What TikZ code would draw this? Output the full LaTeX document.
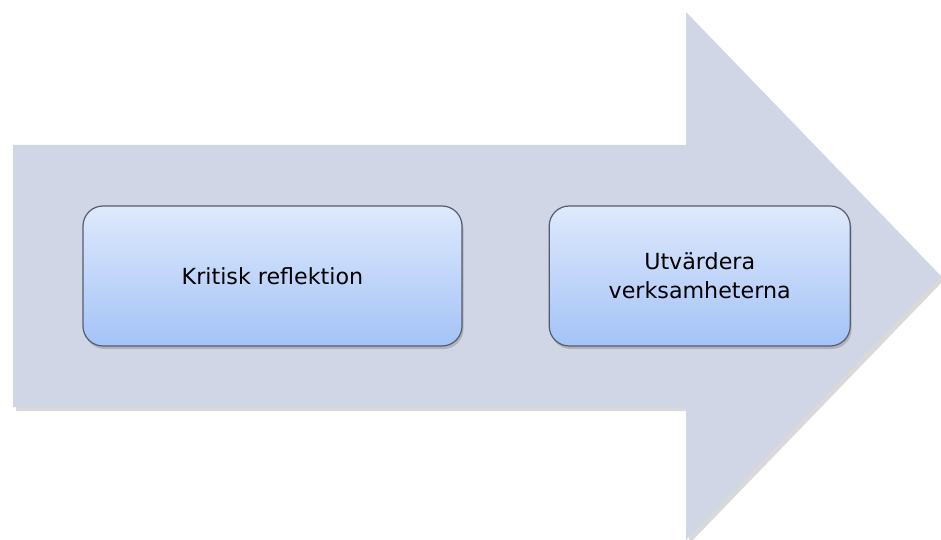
\documentclass[tikz,border=0pt]{standalone}
\usepackage{fontspec}
\setmainfont{DejaVu Sans}
\usepackage{tikz}
\usetikzlibrary{positioning}
\usetikzlibrary{shadows}

\definecolor{arrowgray}{RGB}{208,214,229}
\definecolor{boxtop}{RGB}{222,233,252}
\definecolor{boxbottom}{RGB}{164,195,247}
\definecolor{boxline}{RGB}{84,92,110}

\tikzset{
  stepbox/.style={rectangle, rounded corners=20pt, draw=boxline, line width=1.2pt,
    top color=boxtop, bottom color=boxbottom, minimum height=140pt,
    align=center, font=\fontsize{22.2}{29}\selectfont,
    drop shadow={shadow xshift=1.5pt, shadow yshift=-3pt, opacity=0.4}},
}

\begin{document}
\begin{tikzpicture}[x=1pt,y=-1pt]
        \useasboundingbox (0,0) rectangle (941,540);
        % the big arrow
        \fill[arrowgray, drop shadow={shadow xshift=3pt, shadow yshift=-4pt, opacity=0.3}]
            (13,145) -- (686,145) -- (686,12) -- (941,276) -- (686,540)
            -- (686,407) -- (13,407) -- cycle;
        \node[stepbox, minimum width=379pt] (krit) at (272.5,276) {Kritisk reflektion};
        \node[stepbox, minimum width=301pt, right=86pt of krit] (utv) {Utvärdera\\verksamheterna};
    \end{tikzpicture}
\end{document}
